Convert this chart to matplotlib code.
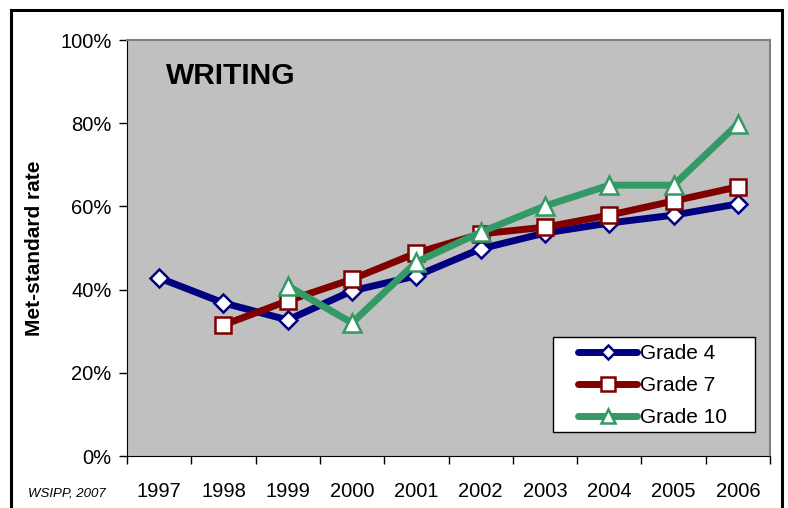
import matplotlib
matplotlib.use('Agg')
import matplotlib.pyplot as plt
import numpy as np
from matplotlib.patches import Rectangle

plt.rcParams['font.family'] = ['Liberation Sans', 'DejaVu Sans']

# дані
years = ['1997', '1998', '1999', '2000', '2001', '2002', '2003', '2004', '2005', '2006']
grade4 = [42.8, 36.8, 32.7, 39.7, 43.3, 49.8, 53.6, 56.0, 57.9, 60.6]
grade7 = [None, 31.5, 37.3, 42.5, 48.8, 53.4, 55.0, 57.9, 61.3, 64.7]
grade10 = [None, None, 40.9, 32.0, 46.6, 53.8, 60.1, 65.1, 65.1, 79.8]

fig = plt.figure(figsize=(7.88, 5.08), dpi=100)

# зовнішня рамка
fig.patches.append(Rectangle((11 / 788, -0.1), (782 - 11) / 788, 1.1 - 10 / 508,
                             transform=fig.transFigure, fill=False,
                             edgecolor='black', linewidth=2.2))

ax = fig.add_axes([127 / 788, 52 / 508, 643 / 788, 416 / 508])
ax.set_facecolor('#c0c0c0')

x = np.arange(len(years)) + 0.5


def series(vals):
    xs = [xi for xi, v in zip(x, vals) if v is not None]
    ys = [v for v in vals if v is not None]
    return xs, ys


xs, ys = series(grade4)
ax.plot(xs, ys, color='#000080', linewidth=5, marker='D', markersize=9,
        markerfacecolor='white', markeredgecolor='#000080', markeredgewidth=1.8,
        solid_capstyle='round', label='Grade 4', zorder=3)
xs, ys = series(grade7)
ax.plot(xs, ys, color='#800000', linewidth=5, marker='s', markersize=12,
        markerfacecolor='white', markeredgecolor='#800000', markeredgewidth=1.8,
        solid_capstyle='round', label='Grade 7', zorder=4)
xs, ys = series(grade10)
ax.plot(xs, ys, color='#339966', linewidth=5, marker='^', markersize=13,
        markerfacecolor='white', markeredgecolor='#339966', markeredgewidth=1.8,
        solid_capstyle='round', label='Grade 10', zorder=5)

ax.set_xlim(0, len(years))
ax.set_ylim(0, 100)
ax.set_xticks(np.arange(len(years) + 1))
ax.set_xticklabels([])
ax.set_xticks(x, minor=True)
ax.set_xticklabels(years, minor=True, fontsize=14.5)
ax.tick_params(axis='x', which='minor', length=0, pad=19)
ax.tick_params(axis='x', which='major', direction='out', length=6, width=1, color='black')
ax.set_yticks(np.arange(0, 101, 20))
ax.set_yticklabels([f'{v}%' for v in range(0, 101, 20)], fontsize=14.5)
ax.tick_params(axis='y', direction='out', length=6, width=1, color='black', pad=5)

for side in ['top', 'right']:
    ax.spines[side].set_color('#808080')
    ax.spines[side].set_linewidth(1.5)
ax.spines['left'].set_color('black')
ax.spines['bottom'].set_color('black')

ax.set_ylabel('Met-standard rate', fontsize=15, fontweight='bold', labelpad=12)
ax.text(0.06, 0.946, 'WRITING', transform=ax.transAxes, fontsize=21.5,
        fontweight='bold', va='top', ha='left')

# рамка легенди
ax.add_patch(Rectangle((0.6625, 0.0577), 0.314, 0.228, transform=ax.transAxes,
                       facecolor='white', edgecolor='black', linewidth=1, zorder=6))
leg = ax.legend(loc='upper left', bbox_to_anchor=(0.7014, 0.269), fontsize=15,
                frameon=False, handlelength=2.84, handletextpad=0.15,
                borderpad=0, labelspacing=0.62, borderaxespad=0, markerscale=0.8)
leg.set_zorder(7)

fig.text(28 / 788, 1 - 493 / 508, 'WSIPP, 2007', fontsize=9.5, style='italic',
         va='center', ha='left')

fig.savefig('out.png', dpi=100)
